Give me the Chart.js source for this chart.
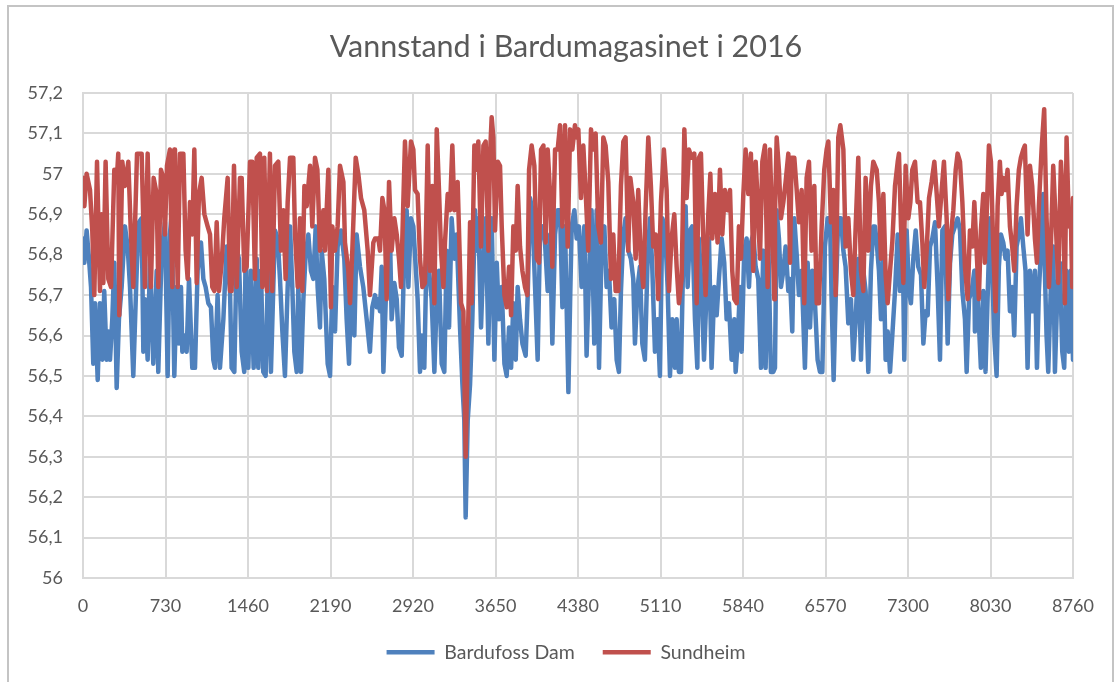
<!DOCTYPE html>
<html>
<head>
<meta charset="utf-8">
<title>Vannstand i Bardumagasinet i 2016</title>
<script src="https://cdn.jsdelivr.net/npm/chart.js@4.4.1/dist/chart.umd.min.js"></script>
<style>
  html, body { margin: 0; padding: 0; background: #fff; }
  #frame { position: absolute; left: 7px; top: 5px; width: 1103px; height: 700px; border: 2px solid #c4c4c4; }
  #chart { position: absolute; left: 0; top: 0; }
</style>
</head>
<body>
<div id="frame"></div>
<canvas id="chart" width="1118" height="682"></canvas>
<script>
const chartTitle = 'Vannstand i Bardumagasinet i 2016';
const seriesNames = ['Bardufoss Dam', 'Sundheim'];
const seriesColors = ['#4f81bd', '#c0504d'];

// x axis: hours of the year, y axis: water level
const xMax = 8760, xStep = 730;
const yMin = 56, yMax = 57.2, yStep = 0.1;

// Bardufoss Dam (turning points)
const bardufossHours = [
  0,12,32,53,71,91,106,130,150,171,188,209,224,239,259,277,298,318,342,371,395,416,445,475,495,519,534,548,572,593,622,652,666,696,725,749,769,784,808,
  814,829,849,867,879,897,917,938,967,991,1014,1044,1065,1085,1109,1132,1153,1168,1191,1212,1242,1271,1301,1315,1339,1360,1380,1404,1427,1439,1463,1486,1510,1537,1551,1575,1595,1616,1640,1663,1684,
  1699,1723,1743,1764,1787,1811,1832,1852,1870,1891,1905,1929,1950,1970,1994,2017,2038,2059,2076,2097,2112,2135,2165,2186,2206,2230,2253,2283,2312,2333,2354,2377,2401,2421,2451,2480,2510,2539,2560,
  2584,2599,2613,2628,2643,2658,2678,2702,2717,2731,2755,2776,2796,2820,2843,2864,2879,2902,2923,2944,2961,2982,2997,3020,3041,3062,3085,3109,3130,3150,3174,3197,3218,3239,3262,3286,3306,3336,3357,3374,3386,3404,3425,3445,
  3469,3484,3498,3522,3543,3563,3587,3602,3616,3640,3661,3681,3705,3729,3749,3770,3788,3808,3829,3846,3867,3888,3917,3935,3956,3976,4000,4023,4044,4065,4088,4112,4133,4153,4177,4200,4221,4242,4265,4295,4310,4324,4348,
  4353,4368,4388,4412,4436,4456,4477,4500,4524,4545,4566,4589,4613,4633,4654,4677,4701,4722,4742,4760,4781,4801,4825,4848,4869,4884,4907,4928,4949,4972,4996,5017,5037,5061,5084,5105,5126,5149,5173,5194,5214,
  5238,5253,5273,5291,5312,5332,5350,5371,5391,5415,5436,5450,5474,5495,5518,5539,5562,5586,5607,5627,5651,5674,5695,5716,5739,5763,5775,5792,5813,5828,5851,5872,5893,5910,5931,5952,5975,5999,6019,6040,6064,6087,6108,
  6123,6138,6158,6176,6197,6217,6241,6256,6276,6294,6315,6335,6359,6388,6412,6433,6453,6477,6500,6521,6542,6565,6589,6610,6624,6642,6660,6683,6707,6728,6748,6772,6795,6816,6837,6860,6884,6905,6925,6949,6972,6993,
  7008,7023,7043,7061,7082,7102,7120,7141,7161,7185,7209,7229,7250,7267,7288,7309,7326,7347,7368,7391,7415,7436,7456,7474,7495,7515,7539,7562,7583,7604,7627,7651,7672,7692,7716,7739,7760,7781,7804,7819,7840,7863,7887,
  7892,7907,7921,7945,7966,7986,8004,8025,8045,8063,8084,8104,8122,8143,8163,8181,8202,8222,8240,8261,8281,8299,8320,8340,8358,8379,8399,8423,8441,8458,8482,8497,8511,8526,8541,8564,8585,8600,8623,8644,8665,8682,8703,8724,8741,8760
];
const bardufossLevels = [
  56.84,56.78,56.86,56.79,56.72,56.53,56.68,56.49,56.68,56.54,56.71,56.54,56.61,56.54,56.64,56.78,56.47,56.64,56.72,56.87,56.82,56.72,56.50,56.76,56.88,56.89,56.56,56.69,56.54,56.79,56.53,56.76,56.51,56.81,56.88,56.50,56.85,56.90,56.50,
  56.50,56.72,56.58,56.72,56.56,56.60,56.56,56.74,56.52,56.52,56.76,56.83,56.74,56.72,56.68,56.67,56.54,56.52,56.70,56.52,56.64,56.82,56.71,56.52,56.51,56.81,56.79,56.56,56.51,56.81,56.52,56.76,56.52,56.79,56.52,56.76,56.51,56.50,56.81,56.51,56.72,
  56.86,56.84,56.74,56.61,56.50,56.72,56.87,56.72,56.56,56.51,56.72,56.51,56.69,56.80,56.85,56.76,56.74,56.87,56.72,56.62,56.81,56.74,56.53,56.50,56.72,56.61,56.82,56.86,56.79,56.64,56.53,56.77,56.60,56.85,56.77,56.72,56.64,56.56,56.67,
  56.70,56.67,56.69,56.66,56.77,56.51,56.68,56.84,56.84,56.64,56.73,56.69,56.57,56.55,56.81,56.91,56.72,56.89,56.87,56.77,56.69,56.51,56.60,56.52,56.82,56.76,56.69,56.51,56.69,56.76,56.53,56.51,56.81,56.62,56.89,56.79,56.85,56.62,56.48,56.39,56.15,56.39,56.48,56.64,
  56.91,56.81,56.89,56.62,56.80,56.89,56.58,56.79,56.89,56.54,56.78,56.64,56.72,56.53,56.50,56.62,56.52,56.68,56.54,56.72,56.64,56.58,56.55,56.70,56.94,56.91,56.72,56.54,56.85,56.87,56.83,56.71,56.85,56.58,56.85,56.91,56.91,56.67,56.87,56.46,56.68,56.87,56.91,
  56.91,56.84,56.87,56.72,56.87,56.55,56.74,56.91,56.58,56.91,56.52,56.82,56.87,56.72,56.76,56.62,56.69,56.54,56.51,56.71,56.85,56.89,56.81,56.79,56.74,56.58,56.72,56.77,56.58,56.54,56.79,56.89,56.77,56.56,56.64,56.50,56.89,56.87,56.72,56.50,56.64,
  56.52,56.64,56.51,56.51,56.81,56.92,56.72,56.86,56.87,56.64,56.52,56.84,56.71,56.54,56.71,56.84,56.52,56.72,56.65,56.74,56.84,56.78,56.64,56.68,56.54,56.64,56.51,56.58,56.72,56.56,56.81,56.84,56.72,56.83,56.85,56.77,56.74,56.52,56.81,56.52,56.83,56.51,56.51,
  56.52,56.91,56.84,56.72,56.76,56.82,56.71,56.74,56.61,56.89,56.80,56.70,56.76,56.52,56.78,56.62,56.76,56.68,56.54,56.51,56.51,56.82,56.89,56.89,56.69,56.49,56.69,56.89,56.89,56.81,56.77,56.63,56.69,56.54,56.64,56.79,56.54,56.76,56.71,56.51,56.76,56.87,
  56.87,56.83,56.76,56.64,56.82,56.54,56.61,56.51,56.60,56.71,56.85,56.71,56.89,56.54,56.86,56.71,56.68,56.79,56.86,56.77,56.75,56.58,56.66,56.65,56.82,56.84,56.88,56.72,56.54,56.86,56.87,56.58,56.78,56.85,56.87,56.89,56.86,56.71,56.64,56.51,56.69,56.71,56.76,
  56.61,56.76,56.67,56.52,56.71,56.51,56.69,56.89,56.76,56.60,56.50,56.77,56.85,56.83,56.79,56.81,56.66,56.72,56.60,56.82,56.85,56.89,56.82,56.76,56.52,56.76,56.66,56.76,56.52,56.71,56.84,56.95,56.76,56.60,56.51,56.72,56.82,56.51,56.72,56.78,56.56,56.52,56.76,56.56,56.76,56.54
];

// Sundheim
const sundheimHours = [
  0,12,32,62,82,100,124,150,165,180,200,224,248,277,298,312,321,348,371,401,424,445,478,519,548,572,601,625,652,666,690,710,725,743,769,790,808,
  814,838,858,888,908,926,947,967,985,1006,1026,1050,1074,1103,1124,1144,1162,1183,1203,1227,1250,1280,1301,1315,1336,1360,1389,1404,1427,1448,1478,1498,1522,1537,1566,1587,1604,1628,1654,1675,
  1699,1728,1752,1773,1793,1811,1832,1861,1876,1900,1920,1941,1959,1979,2009,2029,2053,2074,2097,2127,2141,2171,2194,2206,2230,2253,2274,2304,2318,2348,2363,2383,2413,2436,2460,2489,2519,2539,2569,
  2584,2613,2628,2649,2667,2687,2708,2731,2755,2776,2796,2814,2849,2873,2902,2923,2938,2961,2982,3003,3026,3050,3071,3091,3109,3130,3150,3168,3189,3203,3227,3247,3268,3286,3315,3345,3366,3386,3404,3425,3439,3463,
  3469,3484,3498,3522,3543,3563,3587,3602,3616,3631,3646,3670,3690,3705,3729,3749,3770,3788,3808,3829,3846,3867,3888,3911,3932,3947,3970,3994,4015,4035,4053,4074,4094,4112,4133,4153,4177,4200,4221,4242,4265,4289,4310,4330,
  4353,4368,4383,4406,4427,4447,4471,4495,4515,4536,4559,4583,4604,4624,4648,4672,4692,4713,4736,4760,4781,4801,4825,4843,4869,4890,4913,4937,4958,4978,5002,5025,5046,5067,5090,5114,5140,5164,5185,5208,5232,
  5238,5253,5273,5297,5321,5341,5362,5385,5409,5430,5450,5468,5489,5509,5533,5551,5568,5592,5615,5636,5657,5680,5704,5725,5745,5763,5784,5804,5822,5843,5863,5887,5910,5931,5952,5969,5990,6011,6034,6058,6078,6099,6117,
  6123,6138,6158,6176,6197,6217,6241,6256,6270,6294,6315,6335,6359,6382,6403,6424,6447,6471,6492,6512,6536,6559,6580,6595,6618,6639,6660,6683,6701,6728,6748,6772,6795,6816,6837,6860,6884,6905,6925,6949,6972,6993,
  7008,7023,7043,7061,7082,7102,7120,7141,7161,7185,7209,7220,7238,7259,7279,7303,7321,7338,7362,7385,7406,7427,7444,7465,7486,7509,7533,7554,7574,7598,7618,7642,7657,7680,7701,7722,7739,7760,7781,7804,7828,7848,7869,7887,
  7892,7907,7927,7945,7966,7980,7995,8016,8034,8054,8075,8093,8113,8128,8143,8163,8181,8202,8222,8240,8261,8281,8299,8320,8334,8358,8379,8399,8423,8441,8458,8482,8505,8526,8547,8564,8585,8606,8629,8653,8673,8688,8703,8724,8741,8753,8760
];
const sundheimLevels = [
  56.99,56.92,57.00,56.96,56.86,56.70,57.03,56.71,56.90,56.73,57.03,56.74,56.72,57.01,56.98,57.05,56.65,57.03,56.97,57.03,56.85,56.72,57.05,57.05,56.72,57.05,56.72,56.99,56.95,56.72,57.01,56.99,56.85,57.02,57.06,56.72,57.06,
  57.05,56.72,57.05,57.05,56.81,56.74,56.93,56.85,57.06,56.73,56.95,56.99,56.90,56.87,56.85,56.72,56.71,56.88,56.71,56.78,56.89,56.99,56.71,56.71,57.02,56.72,56.99,56.99,56.76,56.77,57.03,57.03,56.74,57.04,57.05,56.72,57.04,56.71,57.05,56.71,
  57.02,57.03,56.81,56.91,56.74,56.93,57.04,57.04,56.85,56.72,56.89,56.71,56.97,56.92,57.02,56.87,57.04,57.01,56.81,56.91,56.81,57.01,56.67,56.87,56.81,56.87,57.02,56.98,56.83,56.76,56.68,56.81,57.04,57.00,56.94,56.91,56.81,56.70,56.83,
  56.84,56.84,56.81,56.94,56.91,56.69,56.98,56.81,56.89,56.85,56.79,56.72,57.08,56.92,57.08,57.06,56.96,56.95,56.79,56.72,56.73,57.07,56.76,56.97,56.68,57.11,56.96,56.81,56.72,56.83,56.95,56.91,57.07,56.91,56.98,56.68,56.66,56.30,56.56,56.88,56.68,57.07,
  57.07,57.01,57.08,56.82,57.07,57.08,56.81,57.05,57.14,57.09,56.86,57.03,57.02,56.87,56.70,56.67,56.77,56.65,56.87,56.81,56.97,56.82,56.76,56.72,56.70,57.01,57.07,57.02,56.79,56.78,57.06,57.07,56.83,57.06,56.95,56.77,57.06,57.06,57.12,56.87,57.12,56.82,57.11,57.06,
  57.12,57.09,57.11,56.94,57.07,56.96,56.81,57.11,57.06,57.10,56.87,56.83,57.09,57.07,56.98,56.74,56.85,56.71,56.71,56.97,57.08,57.09,56.81,56.99,56.93,56.79,56.96,56.78,56.72,56.91,57.09,56.97,56.82,56.85,56.69,56.93,57.06,56.96,56.71,56.84,56.90,
  56.90,56.77,56.68,56.74,57.11,56.94,57.06,57.04,57.05,56.68,57.04,57.05,56.83,56.70,56.90,57.00,56.84,56.95,56.83,57.01,56.85,56.96,56.91,56.96,56.76,56.69,56.68,56.87,56.79,56.95,57.06,56.95,57.05,56.76,57.03,56.94,56.79,57.03,57.07,56.72,57.06,56.87,56.69,
  56.90,57.09,57.01,56.89,56.93,56.98,57.05,56.78,57.04,57.04,56.96,56.88,56.96,56.68,56.99,57.03,56.81,56.97,56.68,56.68,56.87,57.01,57.06,57.08,56.88,56.96,56.70,57.09,57.12,57.06,56.82,56.89,56.76,56.70,56.87,57.04,56.76,56.71,56.99,56.81,56.97,57.03,
  57.02,57.01,56.93,56.79,56.95,56.75,56.68,56.76,56.83,56.97,57.03,57.05,56.87,56.73,57.02,56.89,56.93,57.01,57.03,56.93,56.93,56.83,56.72,56.81,56.94,56.98,57.03,56.95,56.87,56.96,57.03,56.89,56.69,56.85,56.91,57.01,57.05,57.03,56.93,56.77,56.69,56.86,56.82,56.93,
  56.93,56.81,56.69,56.86,56.95,56.78,56.89,57.07,57.03,56.82,56.66,56.92,57.03,56.95,56.99,56.96,57.01,56.87,56.82,56.76,56.92,57.01,57.04,57.06,57.07,56.85,57.02,56.97,56.84,56.78,56.92,57.06,57.16,56.89,56.72,56.82,57.02,56.89,56.73,57.03,56.93,56.68,57.09,56.87,56.89,56.72,56.94
];

const textColor = '#595959';
const gridColor = '#d9d9d9';
const fontFamily = 'Lato, "Open Sans", sans-serif';

function toPoints(hours, levels) {
  return hours.map((h, i) => ({ x: h, y: levels[i] }));
}

function levelLabel(v) {
  return String(Number(v.toFixed(1))).replace('.', ',');
}

new Chart(document.getElementById('chart').getContext('2d'), {
  type: 'line',
  data: {
    datasets: [
      { label: seriesNames[0], data: toPoints(bardufossHours, bardufossLevels), borderColor: seriesColors[0], backgroundColor: seriesColors[0], borderWidth: 4.5, order: 2 },
      { label: seriesNames[1], data: toPoints(sundheimHours, sundheimLevels), borderColor: seriesColors[1], backgroundColor: seriesColors[1], borderWidth: 4.5, order: 1 }
    ]
  },
  options: {
    responsive: false,
    animation: false,
    parsing: false,
    elements: {
      line: { tension: 0, borderJoinStyle: 'round', borderCapStyle: 'round' },
      point: { radius: 0 }
    },
    layout: { padding: { left: 14, right: 0, top: 0, bottom: 10 } },
    plugins: {
      title: {
        display: true,
        text: chartTitle,
        color: textColor,
        font: { family: fontFamily, size: 30.5, weight: 'normal' },
        padding: { top: 29, bottom: 27.4 }
      },
      legend: {
        position: 'bottom',
        labels: {
          usePointStyle: true,
          pointStyle: 'line',
          pointStyleWidth: 48,
          padding: 28,
          color: textColor,
          font: { family: fontFamily, size: 19.5 },
          sort: (a, b) => a.datasetIndex - b.datasetIndex
        }
      },
      tooltip: { enabled: false }
    },
    scales: {
      x: {
        type: 'linear',
        min: 0,
        max: xMax,
        ticks: {
          stepSize: xStep,
          autoSkip: false,
          maxRotation: 0,
          padding: 17,
          color: textColor,
          font: { family: fontFamily, size: 18 },
          callback: v => String(v)
        },
        grid: { color: gridColor, lineWidth: 2, drawTicks: false },
        border: { color: gridColor, width: 2 },
        afterFit: s => { s.height = 36.5; }
      },
      y: {
        min: yMin,
        max: yMax,
        ticks: {
          stepSize: yStep,
          padding: 20,
          color: textColor,
          font: { family: fontFamily, size: 18 },
          callback: v => levelLabel(v)
        },
        grid: { color: gridColor, lineWidth: 2, drawTicks: false },
        border: { color: gridColor, width: 2 },
        afterFit: s => { s.width = 69; }
      },
      // empty right-hand axis that only reserves the margin right of the plot
      yRight: {
        position: 'right',
        min: yMin,
        max: yMax,
        ticks: { display: false },
        grid: { display: false, drawTicks: false },
        border: { display: false },
        afterFit: s => { s.width = 45; }
      }
    }
  }
});
</script>
</body>
</html>
